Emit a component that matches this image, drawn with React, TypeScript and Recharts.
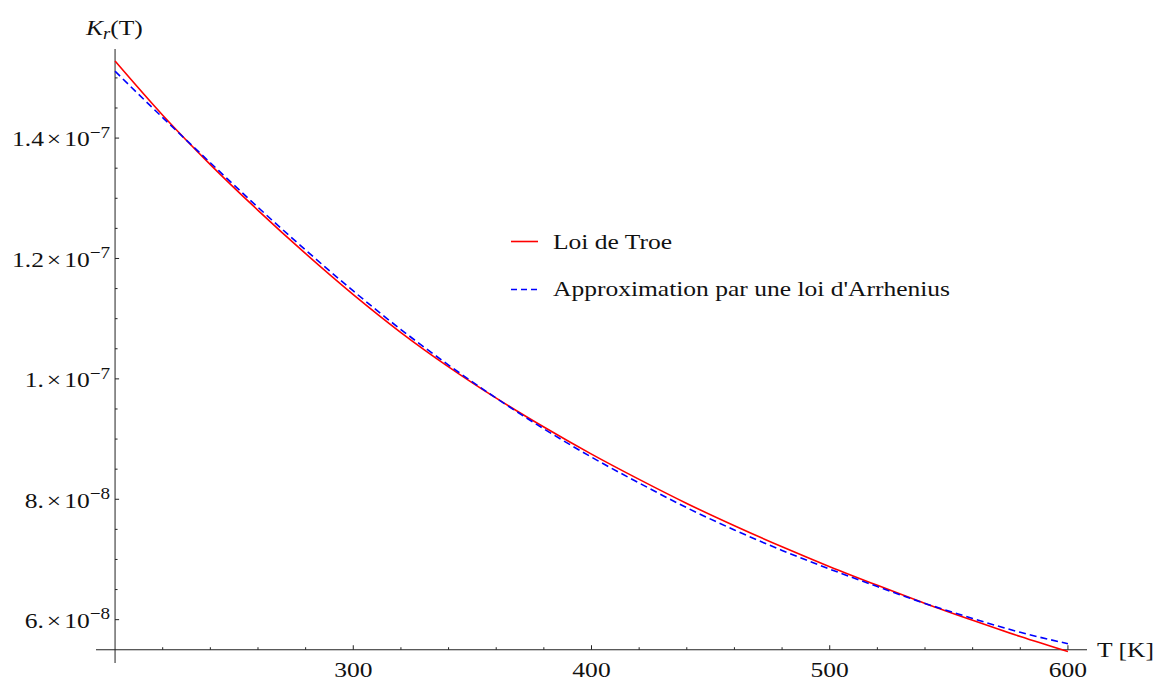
import React from "react";
import { LineChart, Line, XAxis, YAxis, ReferenceLine } from "recharts";

// temperatures (K) and rate constants
const temps = [200, 220, 240, 260, 280, 300, 320, 340, 360, 380, 400, 420, 440, 460, 480, 500, 520, 540, 560, 580, 600];
const troe = [
  1.528e-7, 1.438e-7, 1.356e-7, 1.28e-7, 1.208e-7, 1.14e-7, 1.077e-7, 1.02e-7, 0.968e-7, 0.92e-7, 0.875e-7,
  0.833e-7, 0.793e-7, 0.756e-7, 0.721e-7, 0.688e-7, 0.657e-7, 0.627e-7, 0.599e-7, 0.572e-7, 0.547e-7,
];
const arrhenius = [
  1.511e-7, 1.434e-7, 1.359e-7, 1.285e-7, 1.214e-7, 1.146e-7, 1.082e-7, 1.023e-7, 0.968e-7, 0.917e-7, 0.87e-7,
  0.827e-7, 0.786e-7, 0.749e-7, 0.715e-7, 0.684e-7, 0.655e-7, 0.627e-7, 0.602e-7, 0.579e-7, 0.56e-7,
];
const seriesNames = ["Loi de Troe", "Approximation par une loi d'Arrhenius"];

const xMajorTicks = [300, 400, 500, 600];
const xMinorTicks = [220, 240, 260, 280, 320, 340, 360, 380, 420, 440, 460, 480, 520, 540, 560, 580];
const yMajorTicks = [6e-8, 8e-8, 1e-7, 1.2e-7, 1.4e-7];
const yMantissas = ["6.", "8.", "1.", "1.2", "1.4"];
const yExponents = ["\u22128", "\u22128", "\u22127", "\u22127", "\u22127"];
const yMinorTicks = [
  6.5e-8, 7e-8, 7.5e-8, 8.5e-8, 9e-8, 9.5e-8, 1.05e-7, 1.1e-7, 1.15e-7, 1.25e-7, 1.3e-7, 1.35e-7, 1.45e-7, 1.5e-7,
  1.55e-7,
];

const X_ORIGIN = 200;
const Y_ORIGIN = 5.5e-8;

const FONT = '"Liberation Serif", "Times New Roman", serif';
const FS = 22;
const SX = 1.16; // the picture is a bit stretched sideways
const AXIS = "#222";
const RED = "#ff0000";
const BLUE = "#0000ff";

const data = temps.map((t, i) => ({ T: t, troe: troe[i], arrh: arrhenius[i] }));

const XTick = (props: any) => {
  const { x, y, payload } = props;
  return (
    <g transform={`translate(${x},${y + 13.8}) scale(${SX},1)`}>
      <text textAnchor="middle" fontFamily={FONT} fontSize={FS} fill="#111">
        {payload.value}
      </text>
    </g>
  );
};

const YTick = (props: any) => {
  const { x, y, index } = props;
  return (
    <g transform={`translate(${x + 14},${y + 8.3}) scale(${SX},1)`}>
      <text textAnchor="end" fontFamily={FONT} fontSize={FS} fill="#111">
        {yMantissas[index]}
        <tspan dx={2.5}>×</tspan>
        <tspan dx={2.5}>10</tspan>
        <tspan dy={-8.5} fontSize={16.5}>
          {yExponents[index]}
        </tspan>
      </text>
    </g>
  );
};

const App: React.FC = () => {
  return (
    <div style={{ position: "absolute", left: 0, top: 0, width: 1157, height: 680, background: "#fff" }}>
      <LineChart width={1157} height={680} data={data} margin={{ top: 49, right: 70, bottom: 0, left: 0 }}>
        <XAxis
          dataKey="T"
          type="number"
          domain={[192, 608]}
          allowDataOverflow
          ticks={xMajorTicks}
          interval={0}
          axisLine={false}
          tickLine={false}
          tickSize={0}
          tickMargin={0}
          height={17}
          tick={XTick}
        />
        <YAxis
          type="number"
          domain={[5.28e-8, 1.548e-7]}
          allowDataOverflow
          ticks={yMajorTicks}
          interval={0}
          axisLine={false}
          tickLine={false}
          tickSize={0}
          tickMargin={0}
          width={96}
          tick={YTick}
        />

        {/* axes cross at (200, 5.5e-8) like in Mathematica */}
        <ReferenceLine x={X_ORIGIN} stroke={AXIS} strokeWidth={1} />
        <ReferenceLine y={Y_ORIGIN} stroke={AXIS} strokeWidth={1} />
        {xMajorTicks.map((t) => (
          <ReferenceLine
            key={"xM" + t}
            segment={[{ x: t, y: Y_ORIGIN }, { x: t, y: Y_ORIGIN + 7.5e-10 }]}
            stroke={AXIS}
          />
        ))}
        {xMinorTicks.map((t) => (
          <ReferenceLine
            key={"xm" + t}
            segment={[{ x: t, y: Y_ORIGIN }, { x: t, y: Y_ORIGIN + 4.2e-10 }]}
            stroke={AXIS}
          />
        ))}
        {yMajorTicks.map((v) => (
          <ReferenceLine
            key={"yM" + v}
            segment={[{ x: X_ORIGIN, y: v }, { x: X_ORIGIN + 1.7, y: v }]}
            stroke={AXIS}
          />
        ))}
        {yMinorTicks.map((v) => (
          <ReferenceLine
            key={"ym" + v}
            segment={[{ x: X_ORIGIN, y: v }, { x: X_ORIGIN + 1.05, y: v }]}
            stroke={AXIS}
          />
        ))}

        <Line
          type="monotone"
          dataKey="troe"
          name={seriesNames[0]}
          stroke={RED}
          strokeWidth={1.6}
          dot={false}
          isAnimationActive={false}
        />
        <Line
          type="monotone"
          dataKey="arrh"
          name={seriesNames[1]}
          stroke={BLUE}
          strokeWidth={1.6}
          strokeDasharray="7 4"
          dot={false}
          isAnimationActive={false}
        />
      </LineChart>

      {/* axis labels and legend */}
      <svg
        width={1157}
        height={680}
        style={{ position: "absolute", left: 0, top: 0, pointerEvents: "none" }}
      >
        <g transform={`translate(86,35) scale(${SX},1)`}>
          <text fontFamily={FONT} fontSize={FS} fill="#111">
            <tspan fontStyle="italic">K</tspan>
            <tspan fontStyle="italic" fontSize={16} dy={4}>
              r
            </tspan>
            <tspan dy={-4}>(T)</tspan>
          </text>
        </g>
        <g transform={`translate(1097,657) scale(${SX},1)`}>
          <text fontFamily={FONT} fontSize={FS} fill="#111">
            T [K]
          </text>
        </g>

        <line x1={511} x2={538} y1={241.5} y2={241.5} stroke={RED} strokeWidth={1.6} />
        <g transform={`translate(553,248.5) scale(${SX},1)`}>
          <text fontFamily={FONT} fontSize={FS} fill="#111">
            {seriesNames[0]}
          </text>
        </g>
        <line
          x1={511}
          x2={538}
          y1={289.5}
          y2={289.5}
          stroke={BLUE}
          strokeWidth={1.6}
          strokeDasharray="6 4"
        />
        <g transform={`translate(553,296) scale(${SX},1)`}>
          <text fontFamily={FONT} fontSize={FS} fill="#111">
            {seriesNames[1]}
          </text>
        </g>
      </svg>
    </div>
  );
};

export default App;
